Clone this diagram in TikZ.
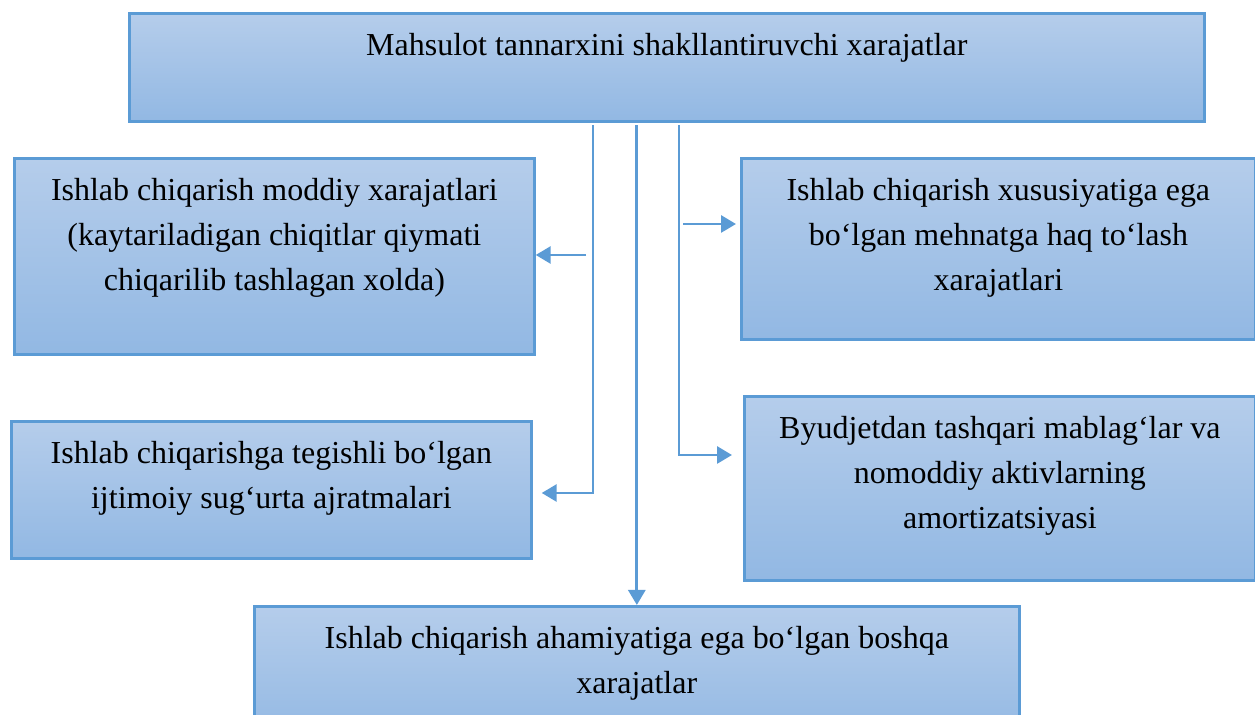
\documentclass[tikz,border=0pt]{standalone}
\usepackage{fontspec}
\setmainfont{Liberation Serif}
\usetikzlibrary{arrows.meta}
\usetikzlibrary{positioning}
\definecolor{boxblue}{RGB}{91,155,213}
\definecolor{boxtop}{RGB}{181,205,235}
\definecolor{boxbot}{RGB}{146,184,227}
\tikzstyle{costbox} = [draw=boxblue, line width=1.6pt, top color=boxtop, bottom color=boxbot, anchor=north west, inner sep=0pt]
\tikzstyle{costtext} = [anchor=north, yshift=-0.3cm, align=center, font=\fontsize{18.2}{25.6}\selectfont]
\tikzstyle{flow} = [draw=boxblue, line width=1.6pt, -{Triangle[length=0.3cm, width=0.34cm]}]

\begin{document}
\begin{tikzpicture}[x=0.02cm, y=-0.02cm]
    \clip (0,0) rectangle (1255,715);
    % boxes
    \node[costbox, minimum width=21.5cm, minimum height=2.16cm, label={[costtext]north:{Mahsulot tannarxini shakllantiruvchi xarajatlar}}] (costs) at (128,12) {};
    \node[costbox, minimum width=10.4cm, minimum height=3.92cm, label={[costtext]north:{Ishlab chiqarish moddiy xarajatlari\\(kaytariladigan chiqitlar qiymati\\chiqarilib tashlagan xolda)}}] (material) at (13,157) {};
    \node[costbox, minimum width=10.4cm, minimum height=2.74cm, label={[costtext]north:{Ishlab chiqarishga tegishli bo‘lgan\\ijtimoiy sug‘urta ajratmalari}}] (social) at (10,420) {};
    \node[costbox, minimum width=10.28cm, minimum height=3.62cm, label={[costtext]north:{Ishlab chiqarish xususiyatiga ega\\bo‘lgan mehnatga haq to‘lash\\xarajatlari}}] (wage) at (740,157) {};
    \node[costbox, minimum width=10.22cm, minimum height=3.68cm, label={[costtext]north:{Byudjetdan tashqari mablag‘lar va\\nomoddiy aktivlarning\\amortizatsiyasi}}] (amort) at (743,395) {};
    \node[costbox, minimum width=15.3cm, minimum height=2.7cm, label={[costtext]north:{Ishlab chiqarish ahamiyatiga ega bo‘lgan boshqa\\xarajatlar}}] (other) at (253,605) {};
    % connectors
    \coordinate (tap_mat) at (586,255);
    \coordinate (bend_soc) at (593,493);
    \coordinate (tap_wage) at (683,224);
    \coordinate (bend_amort) at (679,455);
    \draw[flow] (tap_mat) -- (tap_mat -| material.east);
    \draw[flow, shorten <=0.05cm, shorten >=0.18cm] (costs.south -| bend_soc) |- (bend_soc -| social.east);
    \draw[flow, shorten <=0.05cm] (costs.south -| other.north) -- (other.north);
    \draw[flow, shorten >=0.08cm] (tap_wage) -- (tap_wage -| wage.west);
    \draw[flow, shorten <=0.05cm, shorten >=0.22cm] (costs.south -| bend_amort) |- (bend_amort -| amort.west);
\end{tikzpicture}
\end{document}
